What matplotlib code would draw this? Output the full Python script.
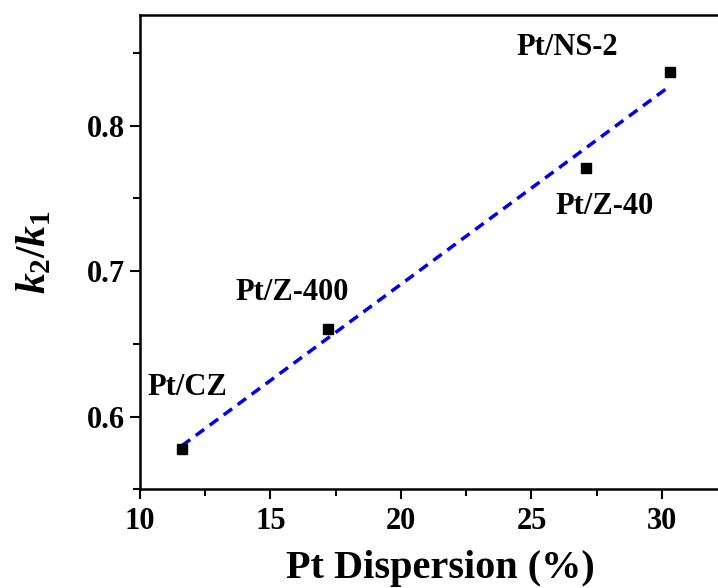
import numpy as np
import matplotlib
matplotlib.use("Agg")
from matplotlib import pyplot as plt
from matplotlib.ticker import MultipleLocator

plt.rcParams['font.family'] = ['Liberation Serif', 'DejaVu Serif']
plt.rcParams['font.weight'] = 'bold'
plt.rcParams['mathtext.fontset'] = 'custom'
plt.rcParams['mathtext.it'] = 'Liberation Serif:italic:bold'
plt.rcParams['mathtext.rm'] = 'Liberation Serif:bold'

samples = ['Pt/CZ', 'Pt/Z-400', 'Pt/Z-40', 'Pt/NS-2']
dispersion = [11.6, 17.2, 27.1, 30.3]
k_ratio = [0.578, 0.660, 0.771, 0.837]

# label offsets in pixels relative to each marker
label_offsets = [(-34, 61), (-92, 37), (-31, -39), (-153, 24)]

fig = plt.figure(figsize=(7.18, 5.88), dpi=100)
# right edge of the axes sits just past the canvas
ax = fig.add_axes([0.195, 0.168, 0.836, 0.806])

ax.plot(dispersion, k_ratio, 's', color='black', markersize=7.5, zorder=3)

coef = np.polyfit(dispersion, k_ratio, 1)
fit_x = np.array([dispersion[0], dispersion[-1]])
ax.plot(fit_x, np.polyval(coef, fit_x), '--', color='#0000ee', lw=2.5,
        dashes=(3, 2), zorder=2)

for name, x, y, off in zip(samples, dispersion, k_ratio, label_offsets):
    ax.annotate(name, (x, y), xytext=off, textcoords='offset pixels',
                fontsize=22, fontweight='bold', ha='left', va='center')

ax.set_xlim(10, 33)
ax.set_ylim(0.55, 0.876)
ax.xaxis.set_major_locator(MultipleLocator(5))
ax.xaxis.set_minor_locator(MultipleLocator(2.5))
ax.yaxis.set_major_locator(MultipleLocator(0.1))
ax.yaxis.set_minor_locator(MultipleLocator(0.05))
ax.set_yticks([0.6, 0.7, 0.8])

ax.tick_params(which='major', direction='out', length=7, width=1.5,
               labelsize=22, top=False, right=False)
ax.tick_params(which='minor', direction='out', length=5, width=1.5,
               top=False, right=False)
ax.tick_params(axis='x', pad=6)
for lab in ax.get_xticklabels() + ax.get_yticklabels():
    lab.set_fontweight('bold')
for side in ['left', 'bottom', 'top', 'right']:
    ax.spines[side].set_linewidth(1.8)

ax.set_xlabel('Pt Dispersion (%)', fontsize=29, fontweight='bold', labelpad=10)
ax.set_ylabel(r'$k_{\mathit{2}}/k_{\mathit{1}}$', fontsize=30, labelpad=24)

fig.savefig('out.png', dpi=100)
